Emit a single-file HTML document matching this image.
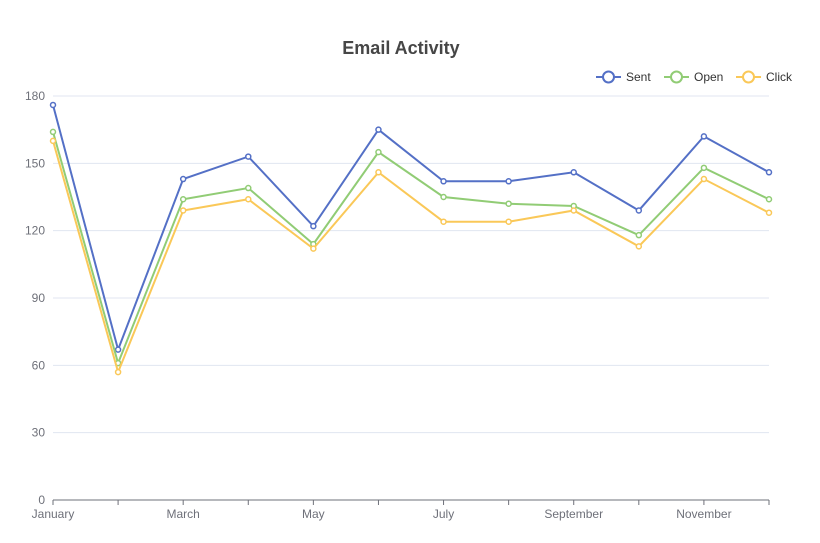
<!DOCTYPE html>
<html><head><meta charset="utf-8"><style>
body{margin:0;background:#fff;font-family:"Liberation Sans",sans-serif}
svg{display:block}
</style></head><body>
<svg id="chart" width="820" height="543">
<text x="401" y="54" text-anchor="middle" font-size="18" font-weight="bold" fill="#464646">Email Activity</text>
<g id="grid"></g><g id="axes"></g><g id="series"></g><g id="legend"></g>
</svg>
<script>
const categories=["January","February","March","April","May","June","July","August","September","October","November","December"];
const sentValues=[176,67,143,153,122,165,142,142,146,129,162,146];
const openValues=[164,61,134,139,114,155,135,132,131,118,148,134];
const clickValues=[160,57,129,134,112,146,124,124,129,113,143,128];
const yTicks=[0,30,60,90,120,150,180];
const seriesNames=["Sent","Open","Click"];
const L=53,R=769,T=96,B=500,yMax=180;
const NS="http://www.w3.org/2000/svg";
function x(i){return L+(R-L)*i/(categories.length-1);}
function y(v){return B-(B-T)*v/yMax;}
function mk(tag,attrs,parent){const e=document.createElementNS(NS,tag);for(const k in attrs)e.setAttribute(k,attrs[k]);parent.appendChild(e);return e;}
const grid=document.getElementById('grid'),axes=document.getElementById('axes'),ser=document.getElementById('series'),leg=document.getElementById('legend');
yTicks.forEach(t=>{
 if(t>0){const g=mk('line',{x1:L,x2:R,y1:y(t),y2:y(t),stroke:'#e0e6f1'},grid);
 
 }
 const tx=mk('text',{x:L-8,y:y(t)+4,'text-anchor':'end','font-size':12,fill:'#6e7079'},axes);
 tx.textContent=t;
 
 
});
const ax=mk('line',{x1:L,x2:R,y1:B,y2:B,stroke:'#6e7079'},axes);


categories.forEach((c,i)=>{
 const tk=mk('line',{x1:x(i),x2:x(i),y1:B,y2:B+5,stroke:'#6e7079'},axes);
 
 
 if(i%2===0){const tx=mk('text',{x:x(i),y:B+18,'text-anchor':'middle','font-size':12,fill:'#6e7079'},axes);
 tx.textContent=c;
 
 }
});
const colors=["#5470c6","#91cc75","#fac858"];
const data=[sentValues,openValues,clickValues];
data.forEach((vals,s)=>{
 const g=mk('g',{},ser);
 
 
 const p=mk('polyline',{points:vals.map((v,i)=>x(i)+','+y(v)).join(' '),fill:'none',stroke:colors[s],'stroke-width':2},g);
 
 
 vals.forEach((v,i)=>{const c=mk('circle',{cx:x(i),cy:y(v),r:2.5,fill:'#fff',stroke:colors[s],'stroke-width':1.5},g);
 
 });
});
const lx=[596,664,736];
seriesNames.forEach((n,s)=>{
 const g=mk('g',{},leg);
 
 
 mk('line',{x1:lx[s],x2:lx[s]+25,y1:77,y2:77,stroke:colors[s],'stroke-width':2},g);
 mk('circle',{cx:lx[s]+12.5,cy:77,r:5.5,fill:'#fff',stroke:colors[s],'stroke-width':2},g);
 const t=mk('text',{x:lx[s]+30,y:81,'font-size':12,fill:'#333'},g);
 t.textContent=n;
});
</script>
</body></html>
